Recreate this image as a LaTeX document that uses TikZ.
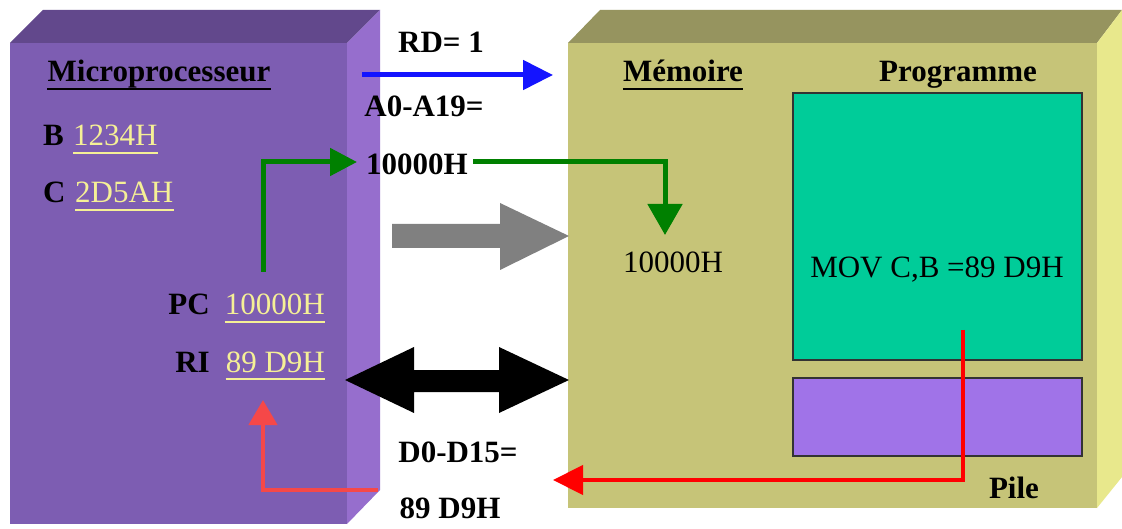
\documentclass[tikz,border=0pt]{standalone}
\usepackage{fontspec}
\setmainfont{Liberation Serif}
\usetikzlibrary{arrows.meta}
\definecolor{procfront}{RGB}{125,93,178}
\definecolor{proctop}{RGB}{98,72,140}
\definecolor{procside}{RGB}{150,110,205}
\definecolor{memfront}{RGB}{198,196,120}
\definecolor{memtop}{RGB}{150,148,95}
\definecolor{memside}{RGB}{232,232,140}
\definecolor{progcol}{RGB}{0,204,153}
\definecolor{pilecol}{RGB}{160,115,232}
\definecolor{valyellow}{RGB}{245,240,150}
\definecolor{arrgreen}{RGB}{0,128,0}
\definecolor{arrred}{RGB}{255,0,0}
\definecolor{arrredlt}{RGB}{245,72,72}
\definecolor{arrblue}{RGB}{20,20,255}
\definecolor{arrgray}{RGB}{128,128,128}
\begin{document}
\begin{tikzpicture}[x=1pt,y=-1pt,
  lbl/.style={inner sep=0pt, anchor=base, font=\fontsize{31}{36}\selectfont\bfseries},
  txt/.style={inner sep=0pt, anchor=base, font=\fontsize{31}{36}\selectfont},
  val/.style={txt, text=valyellow},
  ul/.style={line width=2.6pt},
  wire/.style={line width=5pt},
  box/.style={draw=black!80, line width=1.6pt, inner sep=0pt},
]
\useasboundingbox (0,0) rectangle (1122,529);
\fill[white] (0,0) rectangle (1122,529);

% ---- microprocessor block
\fill[procfront] (10,43) rectangle (347,524);
\fill[proctop] (10,43) -- (43,10) -- (380,10) -- (347,43) -- cycle;
\fill[procside] (347,43) -- (380,10) -- (380,490) -- (347,524) -- cycle;

% ---- memory block
\fill[memfront] (568,43) rectangle (1097,508);
\fill[memtop] (568,43) -- (600,10) -- (1122,10) -- (1097,43) -- cycle;
\fill[memside] (1097,43) -- (1122,10) -- (1122,477) -- (1097,508) -- cycle;

% ---- program and stack areas
\node[box, fill=progcol, minimum width=289pt, minimum height=267pt] (prog) at (937.5,226.5) {};
\node[box, fill=pilecol, minimum width=289pt, minimum height=78pt] (pile) at (937.5,417) {};

% ---- processor texts
\node[lbl] (mtitle) at (159,82) {Microprocesseur};
\draw[ul, black] ([yshift=-7pt]mtitle.base west) -- ([yshift=-7pt]mtitle.base east);
\node[lbl, anchor=base west] (regB) at (43,146) {B};
\node[val, anchor=base west] (valB) at (73,146) {1234H};
\node[lbl, anchor=base west] (regC) at (43,203) {C};
\node[val, anchor=base west] (valC) at (75,203) {2D5AH};
\node[lbl, anchor=base east] (regPC) at (210,315) {PC};
\node[val, anchor=base east] (valPC) at (325,315) {10000H};
\node[lbl, anchor=base east] (regRI) at (210,372) {RI};
\node[val, anchor=base east] (valRI) at (325,372) {89 D9H};
\foreach \n in {valB,valC,valPC,valRI}
  \draw[ul, valyellow] ([yshift=-7pt]\n.base west) -- ([yshift=-7pt]\n.base east);

% ---- memory texts
\node[lbl] (memtitle) at (683,82) {Mémoire};
\draw[ul, black] ([yshift=-7pt]memtitle.base west) -- ([yshift=-7pt]memtitle.base east);
\node[lbl] (progtitle) at (958,82) {Programme};
\node[lbl] (piletitle) at (1014,498) {Pile};
\node[txt] (memaddr) at (673,273) {10000H};
\node[txt] (instr) at (937,278) {MOV C,B =89 D9H};

% ---- bus labels
\node[lbl] (rd) at (441,53) {RD= 1};
\node[lbl] (addr) at (424,117) {A0-A19=};
\node[lbl] (addrval) at (417,175) {10000H};
\node[lbl] (data) at (458,462) {D0-D15=};
\node[lbl] (dataval) at (450,518) {89 D9H};

% ---- connector end points
\coordinate (rdS) at (362,75);
\coordinate (rdE) at (553,75);
\coordinate (pcS) at (263,272);
\coordinate (pcE) at (357,162);
\coordinate (adS) at (473,162);
\coordinate (adE) at (665,235);
\coordinate (insS) at (963,330);
\coordinate (insE) at (553,480);
\coordinate (riS) at (378,490);
\coordinate (riE) at (263,400);

% RD signal
\draw[wire, arrblue, -{Triangle[length=30pt,width=29pt]}] (rdS) -- (rdE);
% PC -> address bus
\draw[wire, arrgreen, -{Triangle[length=27pt,width=27pt]}] (pcS) |- (pcE);
% address -> memory cell
\draw[wire, arrgreen, -{Triangle[length=31pt,width=34pt]}] (adS) -| (adE);
% instruction -> data bus
\draw[line width=4.5pt, arrred, -{Triangle[length=30pt,width=29pt]}] (insS) |- (insE);
% data bus -> RI
\draw[line width=4.5pt, arrredlt, -{Triangle[length=25pt,width=28pt]}] (riS) -| (riE);

% address bus (gray) and data bus (black)
\fill[arrgray] (392,224) -- (500,224) -- (500,203) -- (569,236) -- (500,270) -- (500,248) -- (392,248) -- cycle;
\fill[black] (345,380) -- (414,347) -- (414,370) -- (499,370) -- (499,347) -- (569,380)
  -- (499,413) -- (499,392) -- (414,392) -- (414,413) -- cycle;
\end{tikzpicture}
\end{document}
